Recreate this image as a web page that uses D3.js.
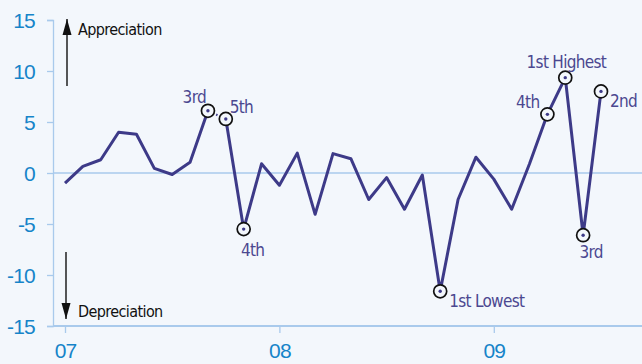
<!DOCTYPE html>
<html>
<head>
<meta charset="utf-8">
<script src="https://cdn.jsdelivr.net/npm/d3@7"></script>
<style>
  body { margin: 0; background: #f3f7fc; }
  svg { display: block; font-family: "DejaVu Sans Condensed", "Liberation Sans Narrow", sans-serif; font-stretch: condensed; }
  .tick text { fill: #1684c9; font-size: 21px; letter-spacing: -0.8px; }
  .mark text { fill: #4b4890; font-size: 17px; letter-spacing: -0.7px; }
  .note { fill: #111; font-size: 16px; letter-spacing: -0.6px; }
</style>
</head>
<body>
<svg></svg>
<script>
// monthly change, Jan 2007 .. Jul 2009
var values = [-1.0, 0.65, 1.3, 4.0, 3.8, 0.45, -0.15, 1.05, 6.1, 5.3,
              -5.5, 0.9, -1.2, 1.95, -4.05, 1.9, 1.4, -2.6, -0.45, -3.55,
              -0.2, -11.6, -2.6, 1.55, -0.6, -3.55, 0.9, 5.75, 9.35, -6.1, 8.0];
var yTicks = [15, 10, 5, 0, -5, -10, -15];
var xTicks = [0, 12, 24];
var xTickLabels = ["07", "08", "09"];
// ranked points: index into values, label
var markIdx = [8, 9, 10, 21, 27, 28, 29, 30];
var markText = ["3rd", "5th", "4th", "1st Lowest", "4th", "1st Highest", "3rd", "2nd"];

var screen = {width: 642, height: 364};
var bg = "#f3f7fc";
var lineColor = "#3d3a88";
var axisColor = "#a9caec";

var svg = d3.select("svg")
    .attr("width", screen.width)
    .attr("height", screen.height);

var xScale = d3.scaleLinear().domain([0, 30]).range([65, 601]);
var yScale = d3.scaleLinear().domain([-15, 15]).range([326, 20]);

//y axis
var yAxis = d3.axisLeft(yScale).tickValues(yTicks)
    .tickFormat(function(d) { return String(d); })
    .tickSize(6).tickPadding(12);
var gy = svg.append("g")
    .attr("transform", "translate(53,0)")
    .call(yAxis);
gy.select(".domain").attr("stroke", axisColor).attr("stroke-width", 1.3);
gy.selectAll(".tick line").attr("stroke", axisColor).attr("stroke-width", 1.3);
gy.selectAll(".tick text").attr("dy", "0.36em");

//x axis
var xAxis = d3.axisBottom(xScale).tickValues(xTicks)
    .tickFormat(function(d, i) { return xTickLabels[i]; })
    .tickSize(7).tickPadding(10).tickSizeOuter(0);
var gx = svg.append("g")
    .attr("transform", "translate(0,326)")
    .call(xAxis);
gx.select(".domain").remove();
gx.append("line")
    .attr("x1", 53).attr("x2", screen.width)
    .attr("stroke", axisColor).attr("stroke-width", 1.8);
gx.selectAll(".tick line").attr("stroke", axisColor).attr("stroke-width", 1.3);
gx.selectAll(".tick text").attr("dy", "0.7em");

//zero line
svg.append("line")
    .attr("x1", 53).attr("x2", screen.width)
    .attr("y1", yScale(0)).attr("y2", yScale(0))
    .attr("stroke", axisColor).attr("stroke-width", 1.3);

//arrows
var defs = svg.append("defs");
defs.append("marker")
    .attr("id", "head")
    .attr("viewBox", "0 0 16 10")
    .attr("refX", 16).attr("refY", 5)
    .attr("markerWidth", 16).attr("markerHeight", 10)
    .attr("markerUnits", "userSpaceOnUse")
    .attr("orient", "auto")
    .append("path").attr("d", "M0,0.5 L16,5 L0,9.5 Z").attr("fill", "#111");

svg.append("line")
    .attr("x1", 67).attr("x2", 67).attr("y1", 86).attr("y2", 19)
    .attr("stroke", "#111").attr("stroke-width", 1.4)
    .attr("marker-end", "url(#head)");
svg.append("text").classed("note", true)
    .attr("x", 78).attr("y", 35).text("Appreciation");

svg.append("line")
    .attr("x1", 66).attr("x2", 66).attr("y1", 252).attr("y2", 319)
    .attr("stroke", "#111").attr("stroke-width", 1.4)
    .attr("marker-end", "url(#head)");
svg.append("text").classed("note", true)
    .attr("x", 78).attr("y", 317).text("Depreciation");

//line
var pts = values.map(function(v, i) { return [i, v]; });
var line = d3.line()
    .x(function(d) { return xScale(d[0]); })
    .y(function(d) { return yScale(d[1]); });

svg.append("path")
    .datum(pts.slice(0, 9))
    .attr("d", line)
    .attr("fill", "none").attr("stroke", lineColor)
    .attr("stroke-width", 3).attr("stroke-linejoin", "round");
svg.append("path")
    .datum(pts.slice(9))
    .attr("d", line)
    .attr("fill", "none").attr("stroke", lineColor)
    .attr("stroke-width", 3).attr("stroke-linejoin", "round");
svg.append("path")
    .datum(pts.slice(8, 10))
    .attr("d", line)
    .attr("fill", "none").attr("stroke", lineColor)
    .attr("stroke-width", 2.2).attr("stroke-dasharray", "1.5,3");

//ranked markers
var offsets = [
    {dx: -2, dy: -8, anchor: "end"},
    {dx: 4, dy: -6, anchor: "start"},
    {dx: 9, dy: 27, anchor: "middle"},
    {dx: 9, dy: 16, anchor: "start"},
    {dx: -8, dy: -6, anchor: "end"},
    {dx: 1, dy: -10, anchor: "middle"},
    {dx: 8, dy: 23, anchor: "middle"},
    {dx: 9, dy: 16, anchor: "start"}
];

var marks = svg.append("g").classed("mark", true)
    .selectAll("g")
    .data(markIdx)
    .enter()
    .append("g")
    .attr("transform", function(d) {
        return "translate(" + xScale(d) + "," + yScale(values[d]) + ")";
    });

marks.append("circle")
    .attr("r", 6.5)
    .attr("fill", bg)
    .attr("stroke", "#111")
    .attr("stroke-width", 1.7);
marks.append("circle")
    .attr("r", 1.7)
    .attr("fill", lineColor);
marks.append("text")
    .text(function(d, i) { return markText[i]; })
    .attr("x", function(d, i) { return offsets[i].dx; })
    .attr("y", function(d, i) { return offsets[i].dy; })
    .attr("text-anchor", function(d, i) { return offsets[i].anchor; });
</script>
</body>
</html>
